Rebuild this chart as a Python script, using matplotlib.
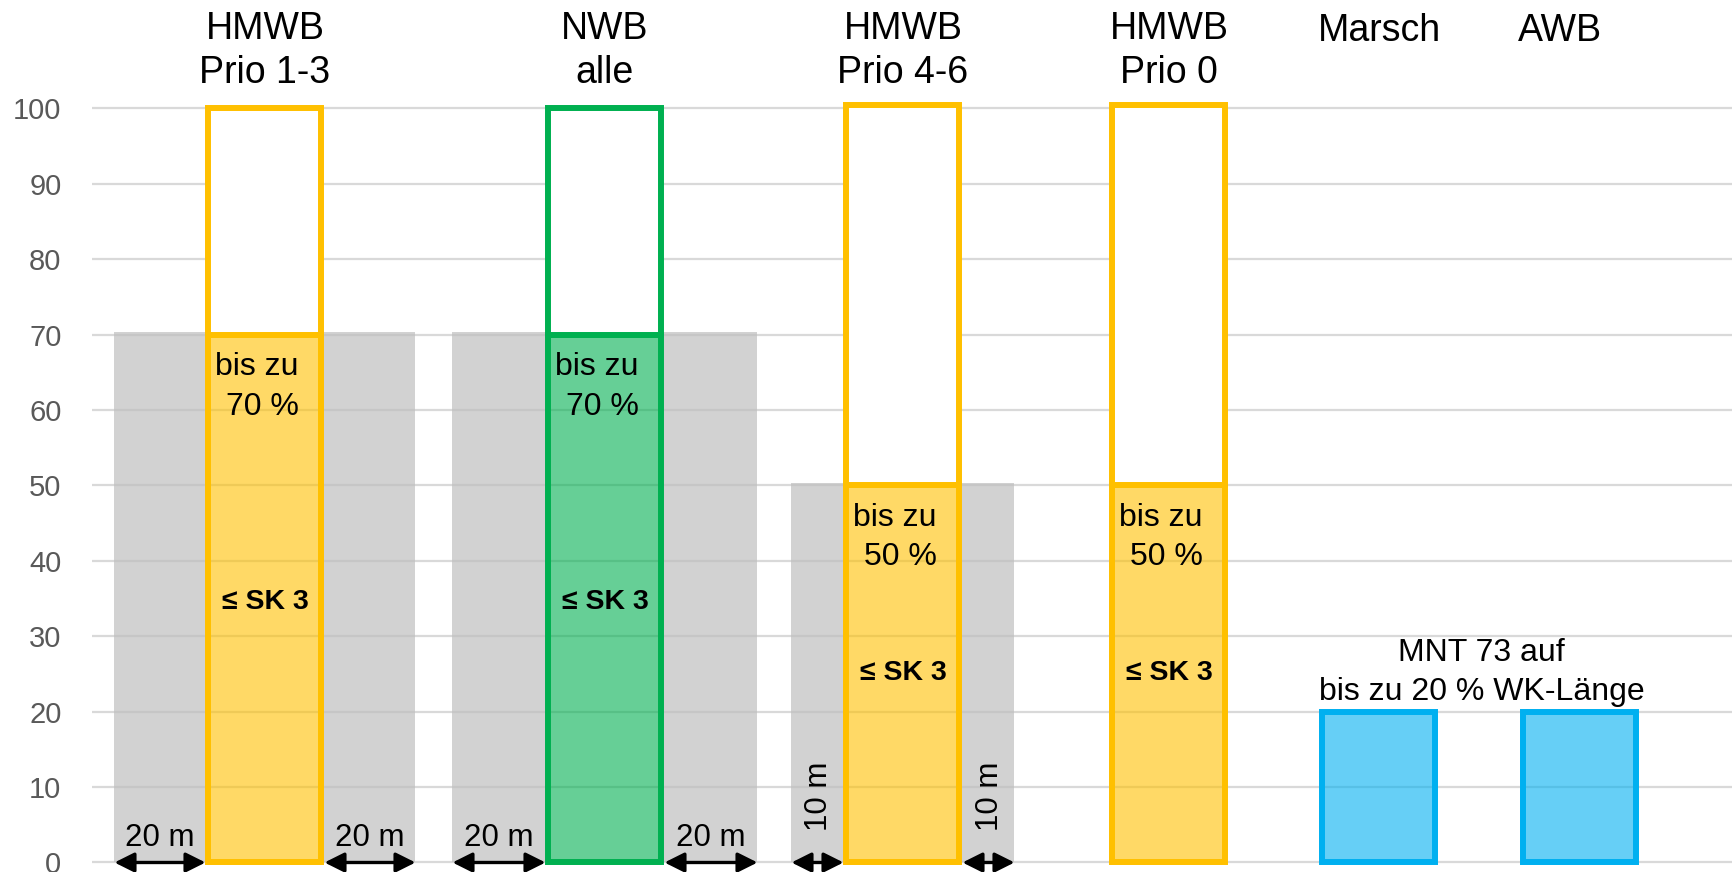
import matplotlib
matplotlib.use("Agg")
import matplotlib.pyplot as plt
from matplotlib.colors import to_rgba

plt.rcParams['font.family'] = ['Liberation Sans', 'DejaVu Sans']

# --- data ---
headers = ["HMWB\nPrio 1-3", "NWB\nalle", "HMWB\nPrio 4-6", "HMWB\nPrio 0", "Marsch", "AWB"]
max_share = [100, 100, 100.4, 100.4]          # outlined column (first four groups)
allowed_share = [70, 70, 50, 50, 20, 20]      # filled part
buffer_m = [20, 20, 10, 0, 0, 0]              # gray buffer strip on each side
share_labels = ["bis zu\n70 %", "bis zu\n70 %", "bis zu\n50 %", "bis zu\n50 %"]
class_label = "≤ SK 3"
mnt_label = "MNT 73 auf\nbis zu 20 % WK-Länge"
yticks = list(range(0, 101, 10))

# --- layout (x in figure pixels) ---
x_centers = [265, 605, 903, 1169, 1379, 1580]
header_dx = [0, 0, 0, 0, 0, -20]
buffer_px = [91, 93, 52, 0, 0, 0]
bar_w = 113
edge_lw = 4.3                      # points, ~6 px
edge_half = 3
edge_colors = ["#FFC000", "#00B050", "#FFC000", "#FFC000", "#00B0F0", "#00B0F0"]
face_colors = [to_rgba(c, 0.6) for c in edge_colors]
gray = to_rgba("#BFBFBF", 0.7)

fig = plt.figure(figsize=(17.33, 8.72), dpi=100)
ax = fig.add_axes([92 / 1733, 0, 1 - 92 / 1733, 1])
ax.set_xlim(92, 1733)
ax.set_ylim(-1.26, 114.36)

# grid + ticks
ax.set_yticks(yticks)
ax.set_xticks([])
ax.yaxis.grid(True, color="#D9D9D9", lw=1.6)
ax.set_axisbelow(True)
ax.tick_params(axis="y", length=0, pad=22, labelsize=21, labelcolor="#595959")
for s in ax.spines.values():
    s.set_visible(False)

# gray buffer strips
for xc, h, bw in zip(x_centers, allowed_share, buffer_px):
    if bw == 0:
        continue
    outer = bar_w / 2 + edge_half
    ax.bar([xc - outer - bw, xc + outer], [h + 0.3, h + 0.3], width=bw, align="edge",
           color=gray, lw=0, zorder=1)

# filled part
ax.bar(x_centers, allowed_share, width=bar_w, facecolor=face_colors,
       edgecolor=edge_colors, lw=edge_lw, zorder=3)

# white upper part of the outlined columns
n = len(max_share)
ax.bar(x_centers[:n], [t - a for t, a in zip(max_share, allowed_share[:n])],
       bottom=allowed_share[:n], width=bar_w, facecolor="white",
       edgecolor=edge_colors[:n], lw=edge_lw, zorder=3)

# header texts
for xc, dx, lab in zip(x_centers, header_dx, headers):
    y = 107.6 if "\n" in lab else 110.3
    ax.text(xc + dx, y, lab, ha="center", va="center", fontsize=27,
            linespacing=1.32, zorder=5)

# labels inside the columns
for xc, fill, lab in zip(x_centers, allowed_share, share_labels):
    ax.text(xc + 34, fill - 2.3, lab, ha="right", va="top", multialignment="right",
            fontsize=23, linespacing=1.42, zorder=5)
    ax.text(xc, fill * 0.47 + 1.6, class_label, ha="center", va="center",
            fontsize=20.5, fontweight="bold", zorder=5)

ax.text((x_centers[4] + x_centers[5]) / 2 + 2, 25.2, mnt_label, ha="center",
        va="center", fontsize=23, linespacing=1.38, zorder=5)

# buffer arrows and widths
for xc, bm, bw in zip(x_centers, buffer_m, buffer_px):
    if bm == 0:
        continue
    outer = bar_w / 2 + edge_half
    for x0, x1 in [(xc - outer - bw, xc - outer), (xc + outer, xc + outer + bw)]:
        ax.annotate("", xy=(x0, 0), xytext=(x1, 0),
                    arrowprops=dict(arrowstyle="<|-|>", color="black", lw=2.4,
                                    mutation_scale=30, shrinkA=0, shrinkB=0),
                    annotation_clip=False, zorder=6)
        mid = (x0 + x1) / 2
        if bm >= 20:
            ax.text(mid, 3.3, f"{bm} m", ha="center", va="center", fontsize=22.5, zorder=5)
        else:
            ax.text(mid + 2, 8.8, f"{bm} m", ha="center", va="center", rotation=90,
                    fontsize=22.5, zorder=5)

fig.savefig("out.png", dpi=100)
